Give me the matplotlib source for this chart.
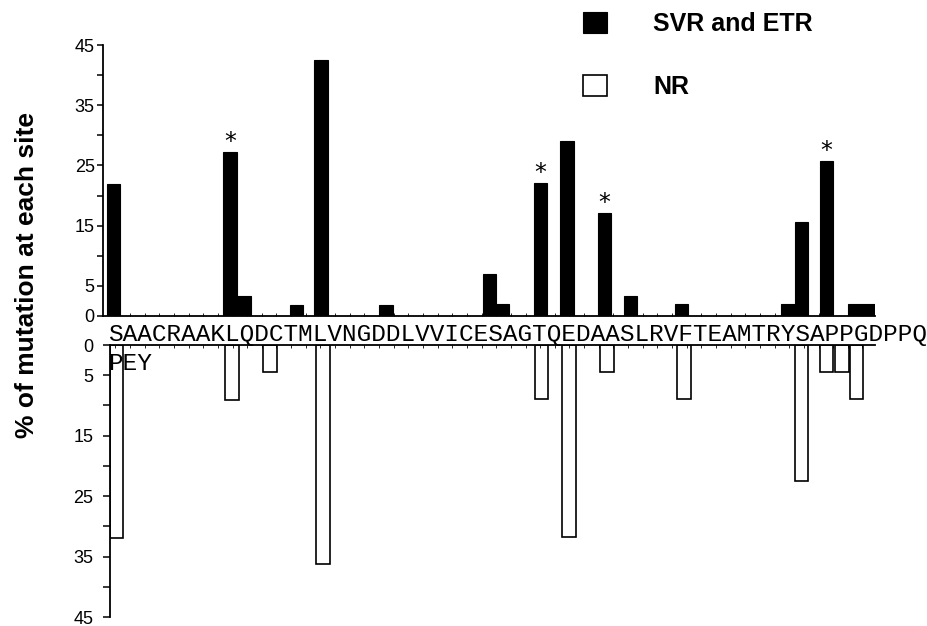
import matplotlib
matplotlib.use('Agg')
import matplotlib.pyplot as plt
import numpy as np

plt.rcParams['font.family'] = ['Liberation Sans', 'DejaVu Sans']

# residue sequence shown between the two panels
sequence = 'SAACRAAKLQDCTMLVNGDDLVVICESAGTQEDAASLRVFTEAMTRYSAPPGDPPQ'
sequence_tail = 'PEY'

# SVR and ETR (upper panel): site position (in residue units) and % mutation
svr_pos = [-0.12, 7.83, 8.78, 12.37, 14.04, 18.48, 25.54, 26.43, 29.02,
           30.83, 33.39, 35.17, 38.65, 45.92, 46.84, 48.52, 50.46, 51.38]
svr_val = [22.0, 27.3, 3.4, 1.8, 42.5, 1.8, 7.0, 2.0, 22.1,
           29.1, 17.1, 3.4, 2.0, 2.0, 15.6, 25.8, 2.0, 2.0]
svr_star = [False, True, False, False, False, False, False, False, True,
            False, True, False, False, False, False, True, False, False]

# NR (lower panel)
nr_pos = [0.08, 7.96, 10.56, 14.18, 29.09, 30.97, 33.56, 38.82,
          46.84, 48.55, 49.6, 50.59]
nr_val = [31.9, 9.1, 4.5, 36.3, 9.0, 31.8, 4.5, 9.0,
          22.5, 4.5, 4.5, 9.0]

yticks = list(range(0, 50, 5))
ylabels = ['0', '5', '', '15', '', '25', '', '35', '', '45']

W, H = 927, 626
fig = plt.figure(figsize=(W / 100, H / 100), dpi=100)

cell = 14.65      # pixel width of one residue letter
x0 = 108          # left pixel edge of first letter


def px2x(px):
    return (px - x0) / cell - 0.5


ax_top = fig.add_axes([103 / W, 1 - 316 / H, (875 - 103) / W, 271 / H])
ax_bot = fig.add_axes([110 / W, 1 - 617 / H, (875 - 110) / W, 272 / H])
ax_top.set_xlim(px2x(103), px2x(875))
ax_bot.set_xlim(px2x(110), px2x(875))

b_top = ax_top.bar(svr_pos, svr_val, width=0.9, color='black',
                   edgecolor='black', linewidth=0.8, label='SVR and ETR')
b_bot = ax_bot.bar(nr_pos, nr_val, width=0.9, color='white',
                   edgecolor='black', linewidth=1.2, label='NR')

ax_top.set_ylim(0, 45)
ax_bot.set_ylim(45, 0)

for ax in (ax_top, ax_bot):
    ax.set_yticks(yticks)
    ax.set_yticklabels(ylabels)
    ax.spines['right'].set_visible(False)
    for s in ax.spines.values():
        s.set_linewidth(1.3)
    ax.set_xticks(np.arange(0, 52))
    ax.set_xticklabels([])
ax_top.spines['top'].set_visible(False)
ax_bot.spines['bottom'].set_visible(False)
ax_bot.xaxis.tick_top()

ax_top.tick_params(axis='y', direction='out', length=4, width=1.1, pad=2,
                   labelsize=13)
ax_bot.tick_params(axis='y', direction='out', length=5, width=1.1, pad=7,
                   labelsize=13)
ax_top.tick_params(axis='x', direction='in', length=2, width=0.6)
ax_bot.tick_params(axis='x', direction='in', length=2, width=0.6)

# asterisks over significant sites
for p, v, s in zip(svr_pos, svr_val, svr_star):
    if s:
        ax_top.annotate('*', (p, v), xytext=(0, 2), textcoords='offset points',
                        ha='center', va='baseline', fontsize=17,
                        family='DejaVu Sans')

# sequence rows
fig.text(x0 / W, 1 - 340.5 / H, sequence, family='Liberation Mono',
         fontsize=cell / 0.6 * 0.72, va='baseline', ha='left')
fig.text(x0 / W, 1 - 370 / H, sequence_tail, family='Liberation Mono',
         fontsize=cell / 0.6 * 0.72, va='baseline', ha='left', zorder=5)

fig.text(27 / W, 1 - 275 / H, '% of mutation at each site', rotation=90,
         ha='center', va='center', fontsize=19, fontweight='bold')

fig.legend(handles=[b_top, b_bot], labels=['SVR and ETR', 'NR'],
           loc='upper left', bbox_to_anchor=(583 / W, 1 - 12 / H),
           frameon=False, prop=dict(weight='bold', size=18),
           handlelength=0.95, handleheight=0.9, handletextpad=1.85,
           labelspacing=1.55, borderpad=0, borderaxespad=0)

fig.savefig('out.png', dpi=100)
